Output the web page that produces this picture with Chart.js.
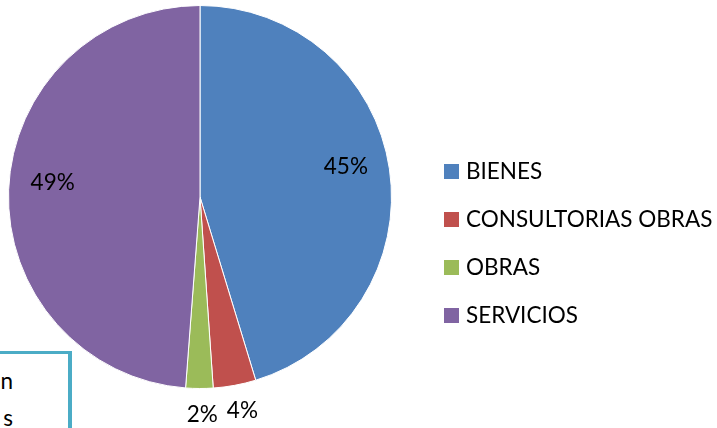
<!DOCTYPE html>
<html>
<head>
<meta charset="utf-8">
<script src="https://cdn.jsdelivr.net/npm/chart.js@4.4.1/dist/chart.umd.min.js"></script>
<style>
  body { margin: 0; background: #fff; }
  #wrap { position: relative; width: 717px; height: 428px; overflow: hidden; }
  #note { position: absolute; left: -60px; top: 351px; width: 132px; height: 120px;
          border: 4px solid #4BACC6; border-top-width: 3px; background: #fff;
          font: 22.5px Lato, sans-serif; color: #000; line-height: 37px; text-align: right;
          padding-right: 55px; box-sizing: border-box; }
</style>
</head>
<body>
<div id="wrap">
  <canvas id="pie" width="717" height="428"></canvas>
  <div id="note"><div style="margin-top:8px">n</div><div>s</div></div>
</div>
<script>
const labels = ['BIENES', 'CONSULTORIAS OBRAS', 'OBRAS', 'SERVICIOS'];
const values = [45.3, 3.6, 2.3, 48.8];
const colors = ['#4F81BD', '#C0504D', '#9BBB59', '#8064A2'];

const FONT = '22.5px Lato, sans-serif';

// percentage labels: inside for big slices, below the pie for small ones
const pctLabels = {
  id: 'pctLabels',
  afterDatasetsDraw(chart) {
    const ctx = chart.ctx;
    const meta = chart.getDatasetMeta(0);
    const total = values.reduce((s, v) => s + v, 0);
    ctx.save();
    ctx.font = FONT;
    ctx.fillStyle = '#000';
    ctx.textAlign = 'center';
    ctx.textBaseline = 'middle';
    const outside = [];
    meta.data.forEach((arc, i) => {
      const p = arc.getProps(['x', 'y', 'startAngle', 'endAngle', 'outerRadius'], true);
      const pct = values[i] / total * 100;
      const mid = (p.startAngle + p.endAngle) / 2;
      const txt = Math.round(pct) + '%';
      if (pct < 5) {
        const r = p.outerRadius + 26;
        outside.push({ txt, x: p.x + Math.cos(mid) * r, y: p.y + Math.sin(mid) * r });
      } else {
        const r = p.outerRadius * 0.77;
        ctx.fillText(txt, p.x + Math.cos(mid) * r, p.y + Math.sin(mid) * r - 9);
      }
    });
    outside.sort((a, b) => a.x - b.x);
    for (let i = 1; i < outside.length; i++) {
      const gap = 38;
      if (outside[i].x - outside[i - 1].x < gap) outside[i].x = outside[i - 1].x + gap;
    }
    outside.forEach(l => ctx.fillText(l.txt, l.x + 3, l.y));
    ctx.restore();
  }
};

// legend drawn at the right, like the office chart
const sideLegend = {
  id: 'sideLegend',
  afterDraw(chart) {
    const ctx = chart.ctx;
    const items = Chart.overrides.pie.plugins.legend.labels.generateLabels(chart);
    ctx.save();
    ctx.font = FONT;
    ctx.textBaseline = 'middle';
    items.forEach((it, i) => {
      const y = 171 + i * 48;
      ctx.fillStyle = it.fillStyle;
      ctx.fillRect(444, y - 7, 15, 15);
      ctx.fillStyle = '#000';
      ctx.fillText(it.text, 466, y + 1);
    });
    ctx.restore();
  }
};

new Chart(document.getElementById('pie'), {
  type: 'pie',
  data: {
    labels,
    datasets: [{ data: values, backgroundColor: colors, borderColor: '#fff', borderWidth: 1 }]
  },
  options: {
    responsive: false,
    animation: false,
    layout: { padding: { left: 8, right: 325, top: 5, bottom: 39 } },
    plugins: { legend: { display: false }, tooltip: { enabled: false } }
  },
  plugins: [pctLabels, sideLegend]
});
</script>
</body>
</html>
